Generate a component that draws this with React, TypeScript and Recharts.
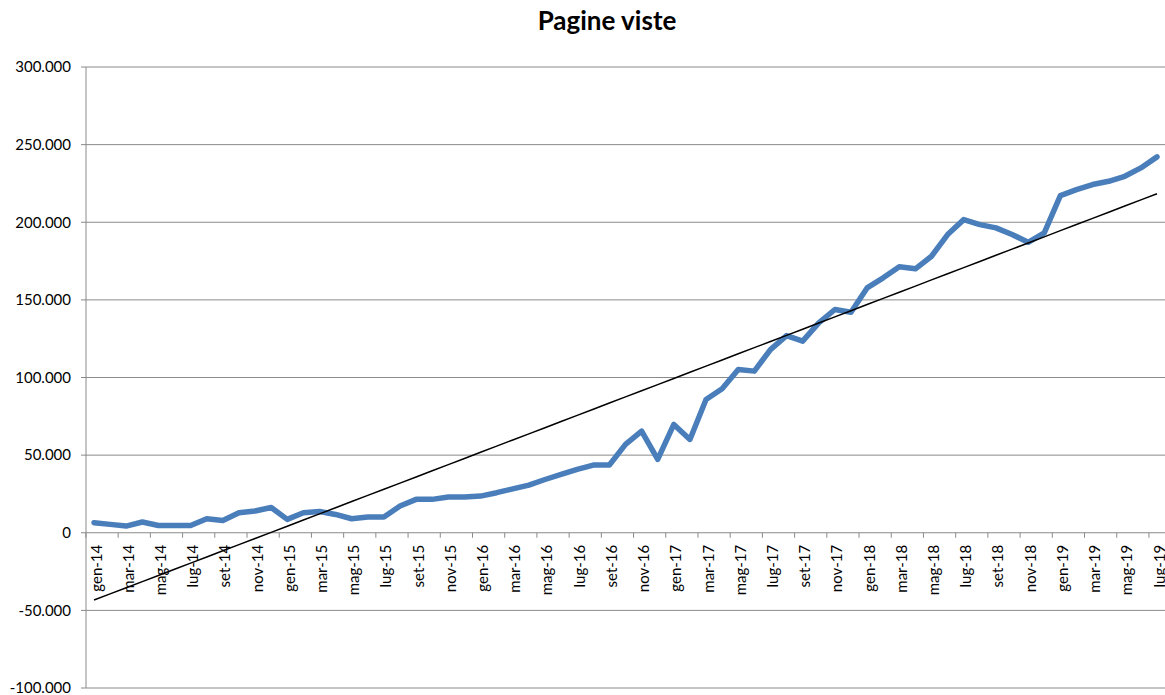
import React from 'react'
import { LineChart, Line, XAxis, YAxis, CartesianGrid } from 'recharts'

// ── Data ─────────────────────────────────────────────────────────────────────

const MONTHS = ['gen', 'feb', 'mar', 'apr', 'mag', 'giu', 'lug', 'ago', 'set', 'ott', 'nov', 'dic']
const YEARS = ['14', '15', '16', '17', '18', '19']

const PAGE_VIEWS: number[] = [
  6500, 5400, 4300, 6900, 4700, 4700, 4700, 9000, 7900, 12900, 14000, 16300,
  8600, 12900, 13700, 11800, 9000, 10100, 10100, 17200, 21500, 21500, 23000, 23000,
  23600, 25800, 28300, 30700, 34300, 37600, 40800, 43600, 43600, 56900, 65500, 47200,
  69800, 60100, 85800, 92700, 105200, 104100, 118000, 127000, 123400, 135200, 143800, 142000,
  157700, 164200, 171300, 170000, 178100, 192100, 201700, 198500, 196400, 192100, 187100, 193200,
  217200, 221000, 224300, 226400, 229600, 235000, 242100,
]

const LABELS: string[] = YEARS.flatMap(y => MONTHS.map(m => `${m}-${y}`)).slice(0, PAGE_VIEWS.length)

const Y_TICKS = [-100000, -50000, 0, 50000, 100000, 150000, 200000, 250000, 300000]

// linear trendline (least squares over month index), like Excel's
function linearTrend(values: number[]) {
  const n = values.length
  const mx = (n - 1) / 2
  const my = values.reduce((s, v) => s + v, 0) / n
  let num = 0
  let den = 0
  values.forEach((v, i) => {
    num += (i - mx) * (v - my)
    den += (i - mx) * (i - mx)
  })
  const slope = num / den
  return values.map((_, i) => my + slope * (i - mx))
}

const TREND = linearTrend(PAGE_VIEWS)

const chartData = LABELS.map((label, i) => ({ label, views: PAGE_VIEWS[i], trend: TREND[i] }))

// ── Layout ───────────────────────────────────────────────────────────────────

const W = 1165
const H = 695
const X_AXIS_H = 1
const MARGIN = { top: 67, right: 0, left: 0, bottom: 6 }
const Y_AXIS_W = 86
const PAD = 8
const PLOT_H = H - MARGIN.top - MARGIN.bottom - X_AXIS_H
const ZERO_Y = MARGIN.top + PLOT_H * (300000 / 400000)
const STEP = (W - Y_AXIS_W - MARGIN.right - PAD * 2) / (PAGE_VIEWS.length - 1)

const FONT = 'Lato, "Open Sans", sans-serif'
const GRID = '#8a8a8a'

const fmt = (v: number) => v.toString().replace(/\B(?=(\d{3})+(?!\d))/g, '.')

// x labels sit on the zero line, every other month, rotated
function MonthTick(props: any) {
  const { x, index, payload } = props
  if (index % 2 !== 0) return <g />
  const tx = x - STEP / 2
  return (
    <g>
      <line x1={tx} x2={tx} y1={ZERO_Y} y2={ZERO_Y + 5} stroke={GRID} />
      <text
        x={0}
        y={0}
        transform={`translate(${x + 1.5}, ${ZERO_Y + 12}) rotate(-90)`}
        textAnchor="end"
        dominantBaseline="central"
        fontSize={15}
        fontFamily={FONT}
        fill="#000"
      >
        {payload.value}
      </text>
    </g>
  )
}

export default function App() {
  return (
    <div style={{ position: 'absolute', left: 0, top: 0, width: W, height: H, background: '#fff' }}>
      <div
        style={{
          position: 'absolute',
          left: 457,
          top: 4,
          width: 300,
          textAlign: 'center',
          fontFamily: FONT,
          fontWeight: 700,
          fontSize: 26,
          color: '#000',
        }}
      >
        Pagine viste
      </div>
      <LineChart width={W} height={H} data={chartData} margin={MARGIN}>
        <CartesianGrid vertical={false} stroke={GRID} strokeWidth={1} />
        <XAxis
          dataKey="label"
          height={X_AXIS_H}
          axisLine={false}
          tickLine={false}
          interval={0}
          padding={{ left: PAD, right: PAD }}
          tick={(p: any) => <MonthTick {...p} />}
        />
        <YAxis
          domain={[-100000, 300000]}
          ticks={Y_TICKS}
          interval={0}
          width={Y_AXIS_W}
          tickFormatter={fmt}
          axisLine={{ stroke: GRID }}
          tickLine={{ stroke: GRID }}
          tickSize={5}
          tickMargin={10}
          tick={{ fontSize: 15, fontFamily: FONT, fill: '#000' }}
        />
        <Line
          type="linear"
          dataKey="views"
          stroke="#4A7EBB"
          strokeWidth={5.5}
          strokeLinejoin="round"
          strokeLinecap="round"
          dot={false}
          activeDot={false}
          isAnimationActive={false}
        />
        <Line
          type="linear"
          dataKey="trend"
          stroke="#000"
          strokeWidth={1.5}
          dot={false}
          activeDot={false}
          isAnimationActive={false}
        />
      </LineChart>
    </div>
  )
}
